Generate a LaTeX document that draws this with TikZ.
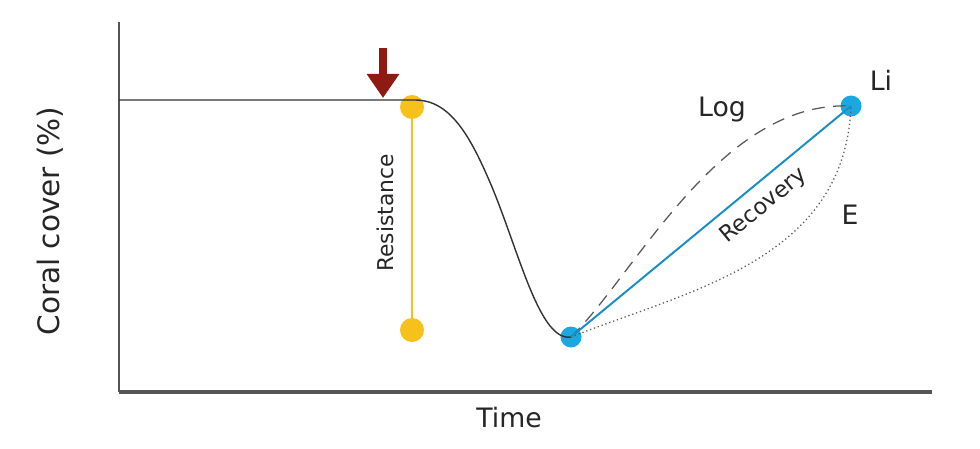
\documentclass[tikz,border=0pt]{standalone}
\usepackage{fontspec}
\setmainfont{DejaVu Sans}
\usetikzlibrary{arrows.meta,positioning}
\definecolor{axisgray}{HTML}{555555}
\definecolor{resyellow}{HTML}{F5C11A}
\definecolor{recblue}{HTML}{1BA8E0}
\definecolor{lineblue}{HTML}{1A8EC2}
\definecolor{arrowred}{HTML}{8E1B12}
\tikzset{
  dot/.style={circle, inner sep=0pt, minimum size=0.6cm},
  lbl/.style={font=\fontsize{19}{21}\selectfont, text=black!85},
}

\begin{document}
\begin{tikzpicture}[x=0.025cm, y=-0.025cm]
\useasboundingbox (0,0) rectangle (980,448);

% Draw axes
\coordinate (top) at (119,22);
\coordinate (origin) at (119,392);
\coordinate (right) at (932,392);
\draw[axisgray, line width=1.4pt] (top) -- (origin);
\draw[axisgray, line width=2.2pt] (origin) -- (right);
\node[lbl, font=\fontsize{21}{23}\selectfont, rotate=90] (ylab) at (50,221) {Coral cover (\%)};
\node[lbl] (xlab) at (509,418) {Time};

% Draw points
\node[dot, fill=resyellow] (rtop) at (412,107) {};
\node[dot, fill=resyellow] (rbot) at (412,330) {};
\node[dot, fill=recblue, minimum size=0.525cm] (rmin) at (571,337) {};
\node[dot, fill=recblue, minimum size=0.525cm] (rmax) at (851,106) {};

% Resistance
\draw[resyellow, line width=1.6pt] (rtop.center) -- (rbot.center);
\node[font=\fontsize{15.5}{17}\selectfont, text=black!85, rotate=90] (reslab) at (385,213) {Resistance};

% Disturbance arrow
\coordinate (dtop) at (383,48);
\coordinate (dtip) at (383,98);
\draw[arrowred, line width=5pt, -{Triangle[width=0.775cm, length=0.6cm]}] (dtop) -- (dtip);

% Coral cover trajectory
\draw[black!80, line width=1pt] (119,100) -- (415,100)
  .. controls (450,100) and (470,135) .. (492,187)
  .. controls (520,255) and (540,342) .. (rmin.center);

% Recovery curves
\draw[black!65, line width=0.9pt, dash pattern=on 9pt off 6pt] (rmin.center)
  .. controls (635,275) and (720,100) .. (rmax.center);
\draw[black!65, line width=0.9pt, dotted] (rmin.center)
  .. controls (690,290) and (845,260) .. (rmax.center);
\draw[lineblue, line width=1.4pt] (rmin.center) -- node[sloped, below=4pt, font=\fontsize{16}{18}\selectfont, text=black!85, pos=0.64] (reclab) {Recovery} (rmax.center);

% Curve labels
\node[lbl] (loglab) at (722,110) {Log};
\node[lbl] (lilab) at (881,80) {Li};
\node[lbl] (elab) at (850,215) {E};
\end{tikzpicture}
\end{document}
